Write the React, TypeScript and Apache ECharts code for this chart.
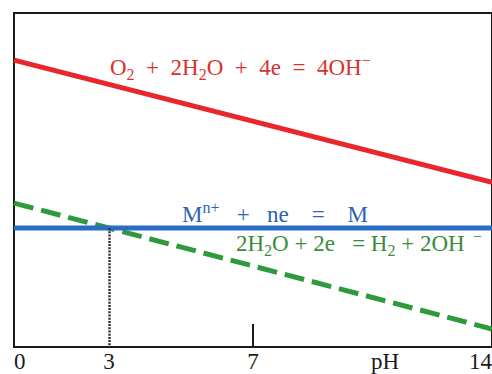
import React, { useEffect, useRef } from "react";
import * as echarts from "echarts";

// pH axis extent
const phExtent = [0, 14];
// Potential (arbitrary schematic units) at pH 0 and pH 14
const oxygenLine = [8.59, 4.93]; // O2 + 2H2O + 4e = 4OH-
const hydrogenLine = [4.31, 0.54]; // 2H2O + 2e = H2 + 2OH-
const metalLine = [3.56, 3.56]; // M^n+ + ne = M
const potentialExtent = [0, 10];
// Tick labels on the pH axis
const tickLabels = ["0", "3", "7", "pH", "14"];
const phNameValue = 10.87;
const majorTick = 7;

// pH where the metal line meets the hydrogen line
const crossPH =
  (phExtent[1] * (hydrogenLine[0] - metalLine[0])) /
  (hydrogenLine[0] - hydrogenLine[1]);
const tickValues = [0, crossPH, 7, phNameValue, 14];

const serif = "Liberation Serif";

const mkRich = (color: string, size: number, small: number) => ({
  t: {
    font: `${size}px "${serif}"`,
    fontFamily: serif,
    fontSize: size,
    lineHeight: 30,
    verticalAlign: "middle",
    fill: color,
  },
  sub: {
    font: `${small}px "${serif}"`,
    fontFamily: serif,
    fontSize: small,
    lineHeight: small,
    verticalAlign: "bottom",
    fill: color,
  },
  sup: {
    font: `${small}px "${serif}"`,
    fontFamily: serif,
    fontSize: small,
    lineHeight: small,
    verticalAlign: "top",
    fill: color,
  },
});

const S = "\u00a0";

export default function App() {
  const ref = useRef<HTMLDivElement>(null);
  useEffect(() => {
    if (!ref.current) return;
    const chart = echarts.init(ref.current, undefined, { renderer: "svg" });
    const line = (vals: number[]) => [
      [phExtent[0], vals[0]],
      [phExtent[1], vals[1]],
    ];
    chart.setOption({
      animation: false,
      backgroundColor: "#ffffff",
      grid: {
        left: 14,
        right: 0,
        top: 13,
        bottom: 27,
        show: true,
        borderColor: "#1a1a1a",
        borderWidth: 2,
        outerBoundsMode: "none",
      },
      xAxis: {
        type: "value",
        min: phExtent[0],
        max: phExtent[1],
        axisLine: { show: true, lineStyle: { color: "#1a1a1a", width: 2 } },
        splitLine: { show: false },
        axisTick: {
          show: true,
          inside: true,
          length: 23,
          customValues: [majorTick],
          lineStyle: { color: "#1a1a1a", width: 2 },
        },
        axisLabel: {
          customValues: tickValues,
          alignMinLabel: "left",
          alignMaxLabel: "right",
          margin: 3,
          color: "#1a1a1a",
          fontFamily: serif,
          fontSize: 23,
          formatter: (v: number) => {
            let best = 0;
            tickValues.forEach((tv, i) => {
              if (Math.abs(tv - v) < Math.abs(tickValues[best] - v)) best = i;
            });
            return tickLabels[best];
          },
        },
      },
      yAxis: {
        type: "value",
        min: potentialExtent[0],
        max: potentialExtent[1],
        axisLine: { show: true, lineStyle: { color: "#1a1a1a", width: 2 } },
        axisTick: { show: false },
        axisLabel: { show: false },
        splitLine: { show: false },
      },
      series: [
        {
          type: "line",
          data: line(oxygenLine),
          showSymbol: false,
          lineStyle: { color: "#e8262b", width: 5 },
        },
        {
          type: "line",
          data: line(hydrogenLine),
          showSymbol: false,
          lineStyle: { color: "#2f9a3c", width: 5, type: [20, 8] },
        },
        {
          type: "line",
          data: line(metalLine),
          showSymbol: false,
          lineStyle: { color: "#2b6cc4", width: 5 },
          markLine: {
            silent: true,
            symbol: "none",
            label: { show: false },
            lineStyle: { color: "#333", width: 2.5, type: [2, 1.2] },
            data: [
              [
                { coord: [crossPH, metalLine[0]] },
                { coord: [crossPH, potentialExtent[0]] },
              ],
            ],
          },
        },
      ],
      graphic: [
        {
          type: "text",
          x: 110,
          y: 52,
          style: {
            text: `{t|O}{sub|2}{t|${S}${S}+${S}${S}2H}{sub|2}{t|O${S}${S}+${S}${S}4e${S}${S}=${S}${S}4OH}{sup|−}`,
            rich: mkRich("#d8322f", 23, 16),
            fontFamily: serif,
            fontSize: 23,
            verticalAlign: "top",
          },
        },
        {
          type: "text",
          x: 182,
          y: 199,
          style: {
            text: `{t|M}{sup|n+}{t|${S}${S}${S}+${S}${S}${S}ne${S}${S}${S}${S}=${S}${S}${S}${S}M}`,
            rich: mkRich("#2d62b4", 23, 16),
            fontFamily: serif,
            fontSize: 23,
            verticalAlign: "top",
          },
        },
        {
          type: "text",
          x: 236,
          y: 228,
          style: {
            text: `{t|2H}{sub|2}{t|O${S}+${S}2e${S}${S}${S}=${S}H}{sub|2}{t|${S}+${S}2OH}{sup|${S}${S}−}`,
            rich: mkRich("#3a8c3c", 23, 16),
            fontFamily: serif,
            fontSize: 23,
            verticalAlign: "top",
          },
        },
      ],
    });
    return () => chart.dispose();
  }, []);
  return (
    <div
      ref={ref}
      style={{ position: "fixed", left: 0, top: 0, width: 492, height: 374 }}
    />
  );
}
